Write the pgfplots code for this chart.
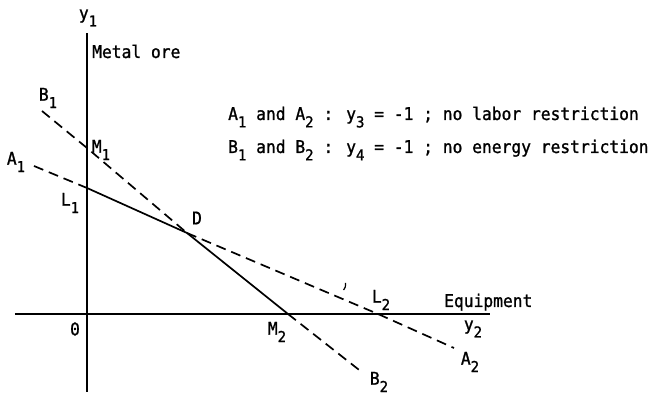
\documentclass[border=0pt]{standalone}
\usepackage{pgfplots}
\pgfplotsset{compat=1.18}
\usepackage{fontspec}
% typewriter face, slightly narrowed and heavier
\newfontfamily\tw{DejaVu Sans Mono}[FakeStretch=0.93, FakeBold=1.2]
% typewriter-style subscript: lowered, keeps its character cell
\newcommand\sub[1]{\raisebox{-0.42em}{\fontsize{15}{15}\selectfont #1}}

\begin{document}
\begin{tikzpicture}[
  lab/.style={font=\tw\fontsize{17.5}{20}\selectfont, inner sep=0pt},
  seg/.style={black, line width=1.7pt},
  dsh/.style={black, line width=1.7pt, dash pattern=on 10pt off 6pt},
]
\begin{axis}[
  x=1pt, y=1pt,
  xmin=-72, xmax=403, ymin=-78, ymax=281,
  axis lines=middle,
  axis line style={line width=1.5pt},
  every inner x axis line/.append style={-},
  every inner y axis line/.append style={-},
  xtick=\empty, ytick=\empty,
  clip=false,
]
% feasible frontier L1 - D - M2
\addplot[seg] coordinates {(0,126) (100,81) (201,0)};
% line A (labour constraint dropped)
\addplot[dsh] coordinates {(-53,148) (0,126)};
\addplot[dsh] coordinates {(100,81) (291,0) (367,-34)};
% line B (energy constraint dropped)
\addplot[dsh] coordinates {(-45,203) (0,166) (100,81)};
\addplot[dsh] coordinates {(201,0) (276,-59)};
% small stray stroke above L2
\addplot[black, line width=1.2pt, smooth] coordinates {(258.5,31) (258.3,27) (256.5,24)};

% axis names
\node[lab] at (axis cs:1,296) {y\sub{1}};
\node[lab, anchor=base west] at (axis cs:5,256) {Metal ore};
\node[lab, anchor=base west] at (axis cs:357,7) {Equipment};
\node[lab] at (axis cs:386,-15) {y\sub{2}};
\node[lab] at (axis cs:-12,-15) {0};

% point labels
\node[lab] at (axis cs:-39,216) {B\sub{1}};
\node[lab] at (axis cs:14,164) {M\sub{1}};
\node[lab] at (axis cs:-71,152) {A\sub{1}};
\node[lab] at (axis cs:-17,111) {L\sub{1}};
\node[lab] at (axis cs:110,96) {D};
\node[lab] at (axis cs:190,-18) {M\sub{2}};
\node[lab] at (axis cs:294,14) {L\sub{2}};
\node[lab] at (axis cs:383,-48) {A\sub{2}};
\node[lab] at (axis cs:292,-68) {B\sub{2}};

% key
\node[lab, anchor=base west] at (axis cs:141,194)
  {A\sub{1} and A\sub{2} : y\sub{3} = -1 ; no labor restriction};
\node[lab, anchor=base west] at (axis cs:141,161)
  {B\sub{1} and B\sub{2} : y\sub{4} = -1 ; no energy restriction};

% page extent
\path (axis cs:-87,-81) rectangle (axis cs:570,314);
\end{axis}
\end{tikzpicture}
\end{document}
